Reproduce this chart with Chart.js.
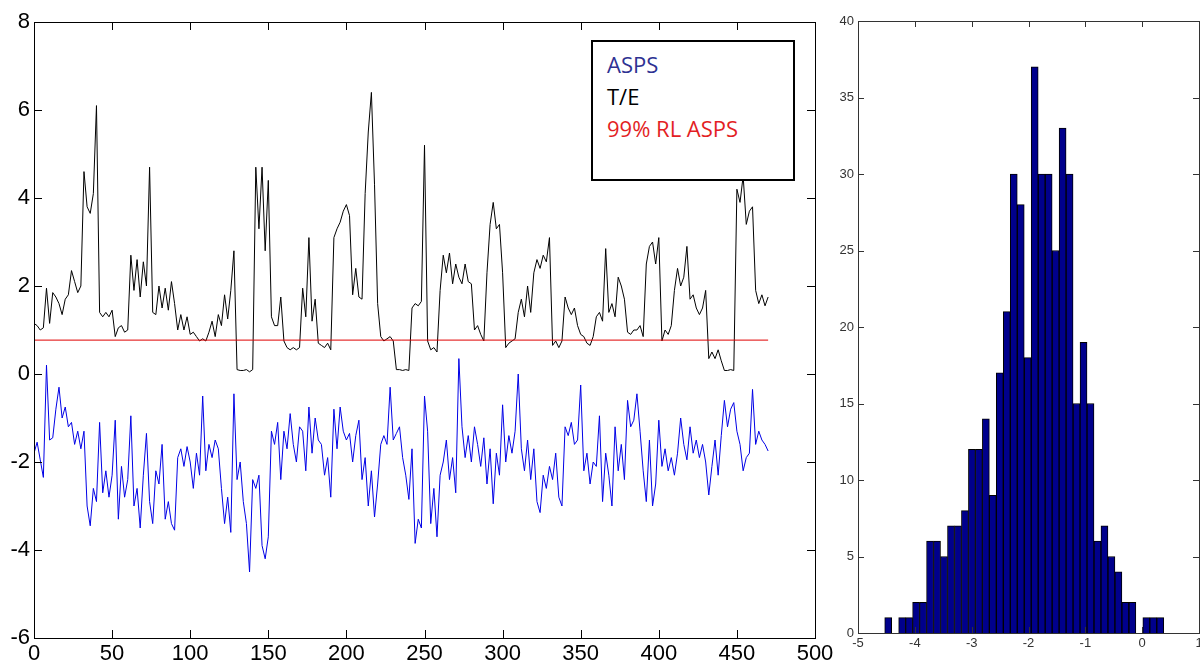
<!DOCTYPE html>
<html>
<head>
<meta charset="utf-8">
<title>ASPS vs T/E</title>
<script src="https://cdn.jsdelivr.net/npm/chart.js@4/dist/chart.umd.min.js"></script>
<style>
  body { margin: 0; background: #fff; width: 1200px; height: 668px; overflow: hidden; position: relative; }
  canvas { position: absolute; top: 0; }
  #left { left: 0; }
  #right { left: 810px; }
  #legendBox {
    position: absolute; left: 591px; top: 40px;
    border: 2px solid #000; background: #fff;
    font-family: "Open Sans", sans-serif; font-size: 22px; line-height: 32px;
    padding: 6px 0 0 14px; box-sizing: border-box; width: 204px; height: 141px;
  }
  #legendBox div { white-space: nowrap; }
</style>
</head>
<body>
<canvas id="left" width="845" height="668"></canvas>
<canvas id="right" width="400" height="668"></canvas>
<div id="legendBox">
  <div style="color:#2e3192">ASPS</div>
  <div style="color:#000">T/E</div>
  <div style="color:#e31e24">99% RL ASPS</div>
</div>
<script>
// one value every 2 samples, sample 0..470
const sampleStep = 2;

const teValues = [
  1.15, 1.1, 1.0, 1.05, 1.95, 1.15, 1.85, 1.75, 1.6, 1.35,
  1.7, 1.8, 2.35, 2.1, 1.85, 2.0, 4.6, 3.8, 3.65, 4.1,
  6.1, 1.4, 1.3, 1.4, 1.3, 1.45, 0.85, 1.05, 1.1, 0.95,
  1.0, 2.7, 1.9, 2.6, 1.75, 2.55, 2.0, 4.7, 1.4, 1.35,
  2.0, 1.5, 1.95, 1.45, 2.1, 1.6, 1.0, 1.35, 1.0, 1.3,
  0.9, 0.95, 0.85, 0.75, 0.8, 0.75, 0.95, 1.2, 0.85, 1.35,
  1.1, 1.8, 1.25, 1.9, 2.8, 0.1, 0.08, 0.08, 0.1, 0.05,
  0.1, 4.7, 3.3, 4.7, 2.8, 4.4, 1.3, 1.1, 1.1, 1.75,
  0.75, 0.6, 0.55, 0.6, 0.55, 0.6, 1.95, 1.3, 3.1, 1.2,
  1.7, 0.7, 0.65, 0.6, 0.7, 0.55, 3.1, 3.3, 3.45, 3.7,
  3.85, 3.6, 1.8, 2.4, 1.75, 1.7, 4.1, 5.5, 6.4, 4.3,
  1.6, 0.85, 0.75, 0.8, 0.85, 0.75, 0.1, 0.1, 0.08, 0.1,
  0.08, 1.5, 1.6, 1.55, 1.65, 5.2, 0.75, 0.55, 0.6, 0.5,
  1.9, 2.7, 2.3, 2.75, 2.05, 2.5, 2.2, 2.05, 2.5, 2.1,
  2.05, 1.0, 1.1, 0.9, 0.75, 2.3, 3.4, 3.9, 3.3, 3.4,
  2.3, 0.6, 0.7, 0.75, 0.8, 1.4, 1.7, 1.3, 2.0, 1.4,
  2.3, 2.6, 2.4, 2.7, 2.55, 3.1, 0.65, 0.75, 0.6, 0.75,
  1.75, 1.5, 1.35, 1.5, 1.1, 0.9, 0.85, 0.7, 0.65, 0.85,
  1.3, 1.4, 1.2, 2.85, 1.4, 1.6, 1.3, 2.2, 2.0, 1.7,
  0.95, 0.9, 1.0, 1.0, 1.1, 0.85, 2.5, 2.9, 3.0, 2.5,
  3.1, 0.75, 1.0, 0.9, 1.1, 1.9, 2.4, 2.0, 2.2, 2.9,
  1.7, 1.8, 1.5, 1.35, 1.5, 1.9, 0.35, 0.5, 0.35, 0.55,
  0.3, 0.08, 0.08, 0.1, 0.08, 4.2, 3.9, 4.5, 3.4, 3.7,
  3.8, 1.9, 1.6, 1.8, 1.55, 1.75
];

const aspsValues = [
  -1.8, -1.55, -1.95, -2.35, 0.2, -1.5, -1.45, -0.8, -0.3, -1.0,
  -0.75, -1.2, -1.1, -1.6, -1.3, -1.7, -1.3, -3.0, -3.45, -2.6,
  -2.9, -1.1, -2.7, -2.2, -2.8, -2.3, -1.05, -3.3, -2.1, -2.8,
  -2.4, -0.95, -3.0, -2.6, -3.5, -2.3, -1.35, -2.9, -3.4, -2.2,
  -2.5, -1.6, -3.3, -2.9, -3.4, -3.55, -1.9, -1.7, -2.1, -1.65,
  -2.0, -2.6, -1.8, -2.3, -0.5, -2.2, -1.6, -1.9, -1.5, -1.7,
  -2.6, -3.4, -2.8, -3.6, -0.45, -2.4, -2.0, -2.9, -3.4, -4.5,
  -2.4, -2.6, -2.3, -3.9, -4.2, -3.7, -1.3, -1.6, -1.1, -2.4,
  -1.3, -1.7, -0.9, -1.6, -2.0, -1.2, -1.3, -2.2, -0.75, -1.8,
  -1.0, -1.5, -1.6, -2.3, -1.9, -2.8, -0.8, -1.7, -0.75, -1.3,
  -1.5, -1.35, -2.0, -1.4, -1.05, -2.4, -1.9, -3.0, -2.2, -3.25,
  -2.5, -1.6, -1.4, -1.6, -0.3, -1.5, -1.35, -1.2, -1.9, -2.3,
  -2.85, -1.7, -3.85, -3.3, -3.5, -0.5, -1.3, -3.4, -2.6, -3.7,
  -2.3, -2.0, -1.5, -2.4, -1.9, -2.7, 0.35, -1.2, -1.9, -1.4,
  -2.0, -1.2, -1.6, -2.1, -1.45, -2.5, -1.7, -2.95, -1.8, -2.3,
  -0.7, -2.0, -1.4, -1.8, -1.3, 0.0, -1.7, -2.2, -1.5, -2.4,
  -1.7, -2.9, -3.15, -2.3, -2.6, -2.1, -2.4, -1.8, -2.8, -3.0,
  -1.2, -1.4, -1.1, -1.6, -1.5, -0.25, -2.2, -1.8, -2.5, -2.0,
  -2.1, -0.95, -2.9, -1.8, -2.3, -3.0, -1.2, -2.2, -1.6, -2.4,
  -0.6, -1.2, -1.05, -0.45, -1.3, -2.2, -2.9, -1.5, -3.0, -2.5,
  -1.05, -2.1, -1.7, -2.2, -1.9, -2.3, -1.8, -1.0, -1.6, -1.95,
  -1.2, -1.8, -1.5, -1.9, -1.6, -2.0, -2.75, -2.1, -1.5, -2.3,
  -1.4, -0.6, -1.2, -0.8, -0.65, -1.3, -1.6, -2.2, -1.9, -1.8,
  -0.35, -1.6, -1.3, -1.5, -1.6, -1.75
];

// 99% reference limit for ASPS
const rlLevel = 0.77;
const rlRange = [0, 470];

// histogram of ASPS, 40 bins
const histLow = -4.53;
const histHigh = 0.38;
const histCounts = [
  1, 0, 1, 1, 2, 2, 6, 6, 5, 7,
  7, 8, 12, 12, 14, 9, 17, 21, 30, 28,
  18, 37, 30, 30, 25, 33, 30, 15, 19, 15,
  6, 7, 5, 4, 2, 2, 0, 1, 1, 1
];

const leftTicksX = { min: 0, max: 500, step: 50 };
const leftTicksY = { min: -6, max: 8, step: 2 };
const rightTicksX = { min: -5, max: 1, step: 1 };
const rightTicksY = { min: 0, max: 40, step: 5 };

// matlab style box with ticks pointing inwards
const boxTicks = {
  id: 'boxTicks',
  afterDraw(chart) {
    const ctx = chart.ctx;
    const a = chart.chartArea;
    const len = chart.options.plugins.boxTicks.len;
    ctx.save();
    ctx.strokeStyle = chart.options.plugins.boxTicks.color;
    ctx.lineWidth = 1;
    ctx.strokeRect(Math.round(a.left) + 0.5, Math.round(a.top) + 0.5,
      Math.round(a.right - a.left), Math.round(a.bottom - a.top));
    ctx.beginPath();
    chart.scales.x.ticks.forEach(t => {
      const px = Math.round(chart.scales.x.getPixelForValue(t.value)) + 0.5;
      ctx.moveTo(px, a.bottom); ctx.lineTo(px, a.bottom - len);
      ctx.moveTo(px, a.top); ctx.lineTo(px, a.top + len);
    });
    chart.scales.y.ticks.forEach(t => {
      const py = Math.round(chart.scales.y.getPixelForValue(t.value)) + 0.5;
      ctx.moveTo(a.left, py); ctx.lineTo(a.left + len, py);
      ctx.moveTo(a.right, py); ctx.lineTo(a.right - len, py);
    });
    ctx.stroke();
    ctx.restore();
  }
};

const teData = teValues.map((v, i) => ({ x: i * sampleStep, y: v }));
const aspsData = aspsValues.map((v, i) => ({ x: i * sampleStep, y: v }));
const rlData = rlRange.map(x => ({ x: x, y: rlLevel }));

const bigFont = { family: 'Liberation Sans', size: 22 };

new Chart(document.getElementById('left').getContext('2d'), {
  type: 'line',
  data: {
    datasets: [
      { label: '99% RL ASPS', data: rlData, borderColor: '#e00000', borderWidth: 1, pointRadius: 0 },
      { label: 'T/E', data: teData, borderColor: '#000000', borderWidth: 1, pointRadius: 0, tension: 0 },
      { label: 'ASPS', data: aspsData, borderColor: '#0000e6', borderWidth: 1, pointRadius: 0, tension: 0 }
    ]
  },
  options: {
    animation: false,
    responsive: false,
    devicePixelRatio: 1,
    layout: { padding: { top: 22, right: 30, left: 0, bottom: 0 } },
    plugins: {
      legend: { display: false },
      tooltip: { enabled: false },
      boxTicks: { len: 8, color: '#000' }
    },
    scales: {
      x: {
        type: 'linear', min: leftTicksX.min, max: leftTicksX.max,
        ticks: { stepSize: leftTicksX.step, font: bigFont, color: '#000', padding: 3, maxRotation: 0, autoSkip: false },
        grid: { display: false, drawTicks: false },
        border: { display: false },
        afterFit(s) { s.height = 30; }
      },
      y: {
        type: 'linear', min: leftTicksY.min, max: leftTicksY.max,
        ticks: { stepSize: leftTicksY.step, font: bigFont, color: '#000', padding: 4 },
        grid: { display: false, drawTicks: false },
        border: { display: false },
        afterFit(s) { s.width = 34; }
      }
    }
  },
  plugins: [boxTicks]
});

const binWidth = (histHigh - histLow) / histCounts.length;
const histData = histCounts.map((c, i) => ({ x: histLow + binWidth * (i + 0.5), y: c }));

const smallFont = { family: 'Liberation Sans', size: 13 };

new Chart(document.getElementById('right').getContext('2d'), {
  type: 'bar',
  data: {
    datasets: [{
      label: 'ASPS',
      data: histData,
      backgroundColor: '#00008c',
      borderColor: '#000000',
      borderWidth: 1,
      barPercentage: 1,
      categoryPercentage: 1
    }]
  },
  options: {
    animation: false,
    responsive: false,
    devicePixelRatio: 1,
    layout: { padding: { top: 21, right: 11, left: 0, bottom: 0 } },
    plugins: {
      legend: { display: false },
      tooltip: { enabled: false },
      boxTicks: { len: 6, color: '#333' }
    },
    scales: {
      x: {
        type: 'linear', min: rightTicksX.min, max: rightTicksX.max, offset: false,
        ticks: { stepSize: rightTicksX.step, font: smallFont, color: '#333', padding: 3, maxRotation: 0, autoSkip: false },
        grid: { display: false, drawTicks: false, offset: false },
        border: { display: false },
        afterFit(s) { s.height = 35; }
      },
      y: {
        type: 'linear', min: rightTicksY.min, max: rightTicksY.max,
        ticks: { stepSize: rightTicksY.step, font: smallFont, color: '#333', padding: 4 },
        grid: { display: false, drawTicks: false },
        border: { display: false },
        afterFit(s) { s.width = 48; }
      }
    }
  },
  plugins: [boxTicks]
});
</script>
</body>
</html>
